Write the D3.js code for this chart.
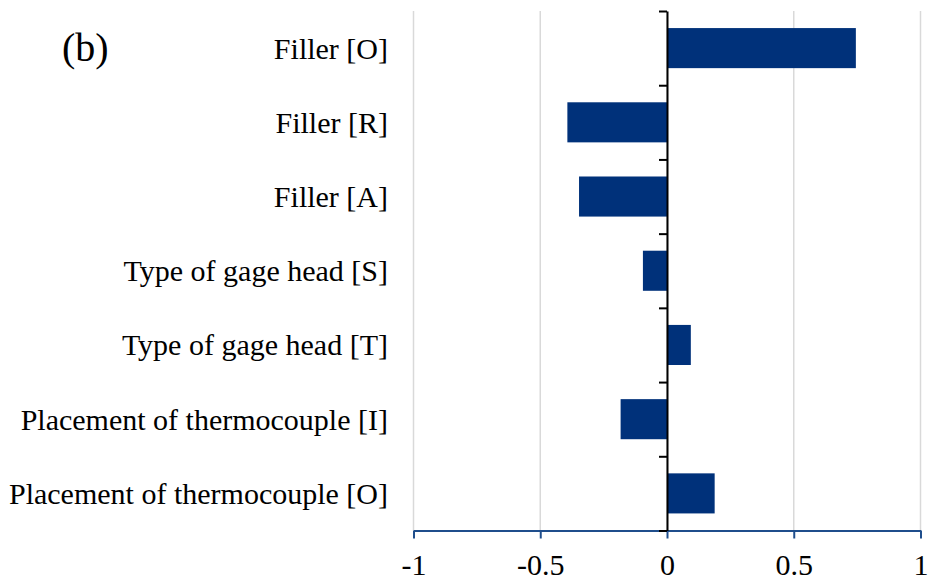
<!DOCTYPE html>
<html>
<head>
<meta charset="utf-8">
<script src="https://cdn.jsdelivr.net/npm/d3@7/dist/d3.min.js"></script>
<style>
  html, body { margin: 0; padding: 0; background: #ffffff; }
  svg { display: block; }
</style>
</head>
<body>
<svg id="chart" width="929" height="581"></svg>
<script>
// Effect of each factor level
const categories = [
  "Filler [O]",
  "Filler [R]",
  "Filler [A]",
  "Type of gage head [S]",
  "Type of gage head [T]",
  "Placement of thermocouple [I]",
  "Placement of thermocouple [O]"
];
const effects = [0.745, -0.393, -0.347, -0.095, 0.094, -0.183, 0.188];
const xTickValues = [-1, -0.5, 0, 0.5, 1];
const xTickLabels = ["-1", "-0.5", "0", "0.5", "1"];
const panelLabel = "(b)";

const svg = d3.select("#chart");
const font = "'Liberation Serif', 'Times New Roman', serif";

const plot = { left: 413.5, right: 920.5, top: 11, bottom: 530.5 };

const x = d3.scaleLinear().domain([-1, 1]).range([plot.left, plot.right]);
const y = d3.scaleBand()
  .domain(categories)
  .range([plot.top, plot.bottom])
  .paddingInner(0.46)
  .paddingOuter(0.23);
// boundaries between categories, for the tick marks on the zero line
const yEdge = d3.scaleLinear().domain([0, categories.length]).range([plot.top, plot.bottom]);

// vertical gridlines
svg.append("g")
  .selectAll("line")
  .data(xTickValues)
  .join("line")
  .attr("x1", d => x(d)).attr("x2", d => x(d))
  .attr("y1", plot.top).attr("y2", plot.bottom)
  .attr("stroke", "#d9d9d9")
  .attr("stroke-width", 1.5);

// bars
svg.append("g")
  .selectAll("rect")
  .data(categories)
  .join("rect")
  .attr("x", (d, i) => Math.min(x(0), x(effects[i])))
  .attr("width", (d, i) => Math.abs(x(effects[i]) - x(0)))
  .attr("y", d => y(d))
  .attr("height", y.bandwidth())
  .attr("fill", "#00317a");

// x axis
const xAxis = svg.append("g")
  .attr("transform", `translate(0,${plot.bottom})`)
  .call(d3.axisBottom(x)
    .tickValues(xTickValues)
    .tickSize(8)
    .tickPadding(15)
    .tickSizeOuter(0)
    .tickFormat((d, i) => xTickLabels[i]));
xAxis.select(".domain").attr("stroke", "#1f4e8c").attr("stroke-width", 2);
xAxis.selectAll(".tick line").attr("stroke", "#1f4e8c").attr("stroke-width", 2);
xAxis.selectAll(".tick text")
  .attr("fill", "#000")
  .style("font-family", font)
  .style("font-size", "30px");

// y axis at zero with tick marks between categories
const yAxis = svg.append("g")
  .attr("transform", `translate(${x(0)},0)`)
  .call(d3.axisLeft(yEdge)
    .tickValues(d3.range(categories.length + 1))
    .tickSize(8)
    .tickSizeOuter(0)
    .tickFormat(""));
yAxis.select(".domain").attr("stroke", "#000").attr("stroke-width", 2);
yAxis.selectAll(".tick line").attr("stroke", "#000").attr("stroke-width", 2);

// category labels
svg.append("g")
  .selectAll("text")
  .data(categories)
  .join("text")
  .attr("x", 388)
  .attr("y", d => y(d) + y.bandwidth() / 2)
  .attr("text-anchor", "end")
  .attr("dominant-baseline", "central")
  .style("font-family", font)
  .style("font-size", "30px")
  .attr("fill", "#000")
  .text(d => d);

// panel label
svg.append("text")
  .attr("x", 62)
  .attr("y", 47)
  .attr("dominant-baseline", "central")
  .style("font-family", font)
  .style("font-size", "40px")
  .attr("fill", "#000")
  .text(panelLabel);
</script>
</body>
</html>
